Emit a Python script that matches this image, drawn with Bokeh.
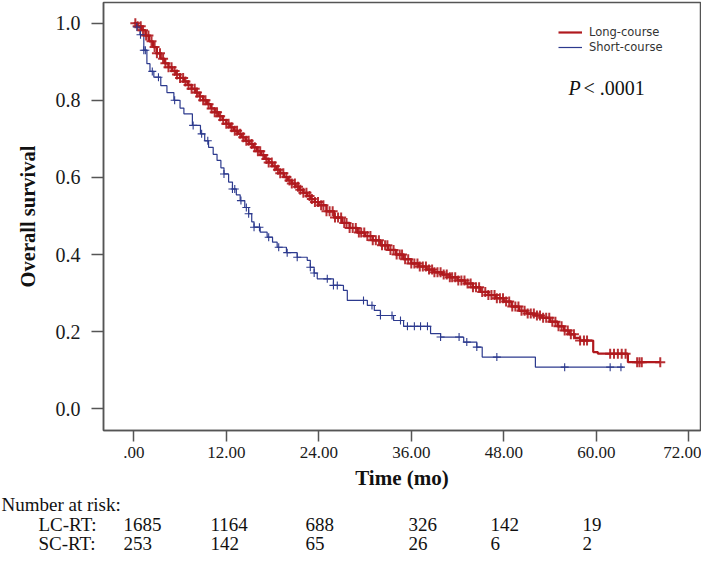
import numpy as np
from bokeh.plotting import figure
from bokeh.layouts import column
from bokeh.models import FixedTicker, Label, Legend, LegendItem, ColumnDataSource, Range1d
from bokeh.core.properties import value
from bokeh.embed import file_html
from bokeh.resources import INLINE

# ---------------- data ----------------
# Long-course (LC-RT) Kaplan-Meier step points (time in months, survival)
lc_time = [0, 0.5, 1.0, 1.5, 2.0, 2.5, 3.0, 3.5, 4.0, 4.5, 5.0, 5.5, 6.0, 6.5, 7.0, 7.5,
           8.0, 8.5, 9.0, 9.5, 10.0, 10.5, 11.0, 11.5, 12.0, 12.5, 13.0, 13.5, 14.0, 14.5,
           15.0, 15.5, 16.0, 16.5, 17.0, 17.5, 18.0, 18.5, 19.0, 19.5, 20.0, 20.5, 21.0,
           21.5, 22.0, 22.5, 23.0, 23.5, 24.0, 25.0, 26.0, 27.0, 28.0, 29.0, 30.0, 31.0,
           32.0, 33.0, 34.0, 35.0, 36.0, 37.0, 38.0, 39.0, 40.0, 41.0, 42.0, 43.0, 44.0,
           45.0, 46.0, 47.0, 48.0, 49.0, 50.0, 51.0, 52.0, 53.0, 54.0, 55.0, 55.8, 56.5,
           57.2, 57.9, 59.6, 60.2, 64.1, 68.3]
lc_surv = [1.000, 0.992, 0.982, 0.968, 0.953, 0.938, 0.922, 0.908, 0.896, 0.886, 0.876,
           0.867, 0.858, 0.849, 0.840, 0.830, 0.820, 0.810, 0.800, 0.790, 0.779, 0.769,
           0.759, 0.749, 0.739, 0.730, 0.721, 0.713, 0.704, 0.695, 0.687, 0.678, 0.668,
           0.658, 0.648, 0.639, 0.629, 0.620, 0.611, 0.601, 0.592, 0.584, 0.576, 0.568,
           0.560, 0.552, 0.544, 0.536, 0.528, 0.512, 0.496, 0.482, 0.469, 0.457, 0.448,
           0.437, 0.424, 0.412, 0.400, 0.388, 0.377, 0.369, 0.361, 0.354, 0.348, 0.341,
           0.333, 0.325, 0.315, 0.303, 0.295, 0.287, 0.278, 0.265, 0.254, 0.247, 0.242,
           0.236, 0.226, 0.214, 0.203, 0.193, 0.184, 0.177, 0.147, 0.143, 0.121, 0.121]
lc_censor = [0.2, 0.5, 0.9, 1.2, 1.6, 1.9, 2.3, 2.7, 3.0, 3.4, 3.8, 4.1, 4.5, 4.9, 5.3, 5.6,
             6.0, 6.4, 6.7, 7.1, 7.5, 7.9, 8.2, 8.6, 9.0, 9.3, 9.7, 10.1, 10.5, 10.8, 11.2,
             11.6, 12.0, 12.3, 12.7, 13.1, 13.4, 13.8, 14.2, 14.6, 14.9, 15.3, 15.7, 16.1,
             16.4, 16.8, 17.2, 17.5, 17.9, 18.3, 18.7, 19.0, 19.4, 19.8, 20.2, 20.5, 20.9,
             21.3, 21.6, 22.0, 22.4, 22.8, 23.1, 23.5, 23.9, 24.3, 24.6, 25.0, 25.4, 25.8,
             26.1, 26.5, 26.9, 27.3, 27.6, 28.0, 28.4, 28.8, 29.2, 29.5, 29.9, 30.3, 30.7,
             31.0, 31.4, 31.8, 32.2, 32.6, 32.9, 33.3, 33.7, 34.1, 34.5, 34.8, 35.2, 35.6,
             36.0, 36.4, 36.8, 37.1, 37.5, 37.9, 38.3, 38.7, 39.0, 39.4, 39.8, 40.2, 40.6,
             41.0, 41.3, 41.7, 42.1, 42.5, 42.9, 43.3, 43.7, 44.0, 44.4, 44.8, 45.2, 45.6,
             46.0, 46.4, 46.8, 47.1, 47.5, 47.9, 48.3, 48.7, 49.1, 49.5, 49.9, 50.3, 50.7,
             51.1, 51.5, 51.9, 52.3, 52.7, 53.1, 53.5, 53.9, 54.3, 54.7, 55.1, 55.5, 55.9,
             56.3, 56.7, 57.1, 57.9, 58.4, 58.8, 61.8, 62.3, 62.8, 63.3, 63.8, 65.3, 65.6,
             65.9, 68.3]

# Short-course (SC-RT) Kaplan-Meier step points
sc_time = [0, 0.4, 0.8, 1.3, 1.7, 2.1, 2.6, 3.5, 4.3, 5.2, 6.0, 6.5, 7.6, 8.65, 9.2, 9.7,
           10.3, 10.8, 11.3, 11.7, 12.3, 12.8, 13.3, 13.8, 14.4, 14.9, 15.3, 15.6, 16.4,
           17.3, 18.0, 18.6, 19.8, 21.2, 22.5, 22.9, 23.4, 23.8, 25.9, 27.2, 27.7, 30.3,
           31.2, 32.0, 33.7, 35.0, 38.5, 39.8, 42.8, 44.5, 45.2, 52.1, 63.5]
sc_surv = [1.000, 0.990, 0.970, 0.930, 0.895, 0.875, 0.860, 0.838, 0.820, 0.800, 0.780,
           0.765, 0.735, 0.713, 0.695, 0.678, 0.660, 0.644, 0.625, 0.609, 0.588, 0.570,
           0.555, 0.540, 0.522, 0.506, 0.485, 0.471, 0.458, 0.445, 0.432, 0.419, 0.405,
           0.393, 0.385, 0.367, 0.352, 0.337, 0.320, 0.307, 0.281, 0.268, 0.255, 0.242,
           0.229, 0.214, 0.195, 0.186, 0.173, 0.160, 0.134, 0.108, 0.108]
sc_censor = [0.4, 0.87, 1.3, 1.5, 2.4, 3.2, 5.3, 7.7, 8.8, 9.6, 11.7, 12.8, 13.1, 13.9,
             14.6, 14.9, 15.6, 16.3, 17.5, 18.8, 19.9, 21.2, 22.9, 23.4, 25.1, 25.9, 26.4,
             29.8, 30.9, 32.0, 33.5, 34.6, 35.5, 36.4, 37.2, 38.1, 39.8, 42.2, 43.2, 44.5,
             47.1, 55.9, 61.8, 63.2]

x_ticks = [0, 12, 24, 36, 48, 60, 72]
x_tick_labels = [".00", "12.00", "24.00", "36.00", "48.00", "60.00", "72.00"]
y_ticks = [0.0, 0.2, 0.4, 0.6, 0.8, 1.0]
y_tick_labels = ["0.0", "0.2", "0.4", "0.6", "0.8", "1.0"]

group_names = ["Long-course", "Short-course"]
risk_title = "Number at risk:"
risk_row_names = ["LC-RT:", "SC-RT:"]
lc_at_risk = [1685, 1164, 688, 326, 142, 19]
sc_at_risk = [253, 142, 65, 26, 6, 2]

# ---------------- styling / layout ----------------
RED = "#b0191e"
BLUE = "#2c3a8e"
FRAME = "#555555"
SERIF = "Liberation Serif"
TEXT = "#111111"


def step_value(times, surv, t):
    times = np.asarray(times)
    surv = np.asarray(surv)
    idx = np.searchsorted(times, np.asarray(t), side="right") - 1
    return surv[idx]


MAIN_H = 492
p = figure(width=701, height=MAIN_H, output_backend="svg", toolbar_location=None,
           x_range=(-3.93, 73.52), y_range=(-0.0563, 1.0537),
           min_border_left=103, min_border_right=1, min_border_top=2, min_border_bottom=62,
           frame_align=False)
p.grid.visible = False
p.outline_line_color = FRAME
p.outline_line_width = 1.5
p.background_fill_color = "white"
p.border_fill_color = "white"

# curves
lc_src = ColumnDataSource(dict(t=lc_time, s=lc_surv))
sc_src = ColumnDataSource(dict(t=sc_time, s=sc_surv))
r_lc = p.step("t", "s", source=lc_src, mode="after", line_color=RED, line_width=2.2)
r_sc = p.step("t", "s", source=sc_src, mode="after", line_color=BLUE, line_width=1.2)

p.scatter(lc_censor, step_value(lc_time, lc_surv, lc_censor), marker="cross", size=10,
          line_color=RED, line_width=2, line_alpha=0.9)
p.scatter(sc_censor, step_value(sc_time, sc_surv, sc_censor), marker="cross", size=8,
          line_color=BLUE, line_width=1.1)

# axes
p.xaxis.ticker = FixedTicker(ticks=x_ticks)
p.xaxis.major_label_overrides = {t: l for t, l in zip(x_ticks, x_tick_labels)}
p.yaxis.ticker = FixedTicker(ticks=y_ticks)
p.yaxis.major_label_overrides = {t: l for t, l in zip(y_ticks, y_tick_labels)}
for ax in (p.xaxis[0], p.yaxis[0]):
    ax.axis_line_color = FRAME
    ax.axis_line_width = 1.5
    ax.major_tick_line_color = FRAME
    ax.major_tick_line_width = 1.5
    ax.major_tick_in = 0
    ax.minor_tick_line_color = None
    ax.major_label_text_font = SERIF
    ax.major_label_text_color = "#1a1a1a"
    ax.axis_label_text_font = SERIF
    ax.axis_label_text_font_style = "bold"
    ax.axis_label_text_color = TEXT

p.xaxis.major_tick_out = 11
p.xaxis.major_label_text_font_size = "17px"
p.xaxis.major_label_standoff = 5
p.xaxis.axis_label = "Time (mo)"
p.xaxis.axis_label_text_font_size = "21px"
p.xaxis.axis_label_standoff = 5

p.yaxis.major_tick_out = 12
p.yaxis.major_label_text_font_size = "20px"
p.yaxis.major_label_standoff = 11
p.yaxis.axis_label = "Overall survival"
p.yaxis.axis_label_text_font_size = "20.5px"
p.yaxis.axis_label_standoff = 14

# legend
legend = Legend(items=[LegendItem(label=group_names[0], renderers=[r_lc]),
                       LegendItem(label=group_names[1], renderers=[r_sc])],
                location=(455, 376), padding=0, spacing=1, margin=0,
                glyph_width=24, glyph_height=14, label_height=14, label_standoff=7,
                label_text_font="DejaVu Sans", label_text_font_size="11.5px",
                label_text_color="#333333", border_line_color=None,
                background_fill_alpha=0)
p.add_layout(legend)

# p-value
p.add_layout(Label(x=465, y=343, x_units="screen", y_units="screen", text="P",
                   text_font=SERIF, text_font_style="italic", text_font_size="20px",
                   text_baseline="middle", text_align="left", text_color=TEXT))
p.add_layout(Label(x=480, y=343, x_units="screen", y_units="screen", text="< .0001",
                   text_font=SERIF, text_font_size="20px",
                   text_baseline="middle", text_align="left", text_color=TEXT))

# ---------------- number-at-risk table (separate panel, pixel layout) ----------------
TABLE_H = 554 - MAIN_H
t = figure(width=701, height=TABLE_H, output_backend="svg", toolbar_location=None,
           x_range=Range1d(0, 701), y_range=Range1d(TABLE_H, 0),
           x_axis_type=None, y_axis_type=None, frame_align=False,
           min_border_left=0, min_border_right=0, min_border_top=0, min_border_bottom=0)
t.grid.visible = False
t.outline_line_color = None
t.background_fill_color = "white"
t.border_fill_color = "white"

title_pos = (1, 11.5)
name_x = 38
row_y = [31.5, 51]
col_x = [123, 210, 305, 408, 490, 582]

tx, ty, tt = [title_pos[0]], [title_pos[1]], [risk_title]
for name, counts, yy in zip(risk_row_names, [lc_at_risk, sc_at_risk], row_y):
    tx.append(name_x)
    ty.append(yy)
    tt.append(name)
    for cx, n in zip(col_x, counts):
        tx.append(cx)
        ty.append(yy)
        tt.append(str(n))
t.text(x=tx, y=ty, text=tt, text_font=value(SERIF), text_font_size=value("19px"),
       text_baseline="middle", text_align="left", text_color=TEXT)

layout = column(p, t, spacing=0)
open("out.html", "w").write(file_html(layout, INLINE))
